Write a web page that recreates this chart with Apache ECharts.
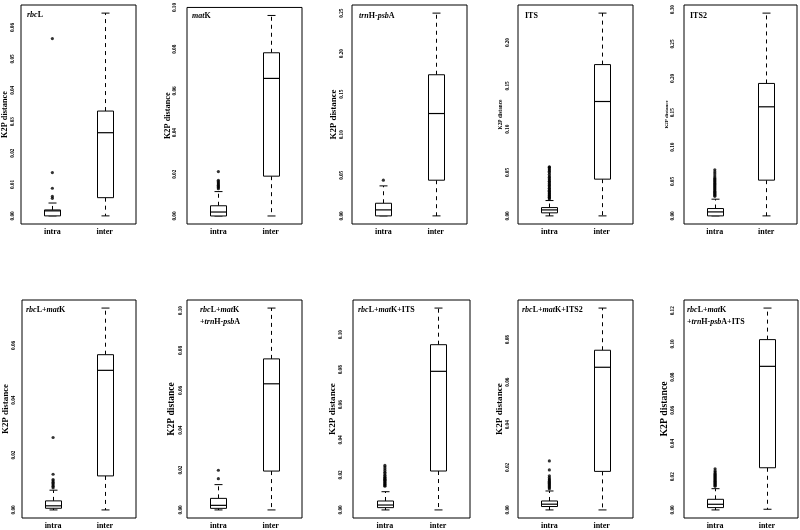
<!DOCTYPE html>
<html><head><meta charset="utf-8">
<script src="https://cdn.jsdelivr.net/npm/echarts@6/dist/echarts.min.js"></script>
<style>html,body{margin:0;padding:0;background:#fff}#c{width:800px;height:530px}</style>
</head><body><div id="c"></div><script>
// ---------------- DATA ----------------
const categories = ['intra', 'inter'];
// each box: [min, q1, median, q3, max]
const rbcL_intra = [0, 0, 0.0016, 0.0019, 0.0041];
const rbcL_inter = [0, 0.0058, 0.0265, 0.0334, 0.0646];
const rbcL_outliers = [0.0056, 0.0062, 0.0088, 0.0138, 0.0565];
const rbcL_ticks = [0, 0.01, 0.02, 0.03, 0.04, 0.05, 0.06];

const matK_intra = [0, 0, 0.0019, 0.0049, 0.0117];
const matK_inter = [0, 0.0191, 0.066, 0.0783, 0.0962];
const matK_outliers = [0.0131, 0.0137, 0.0142, 0.0148, 0.0153, 0.0159, 0.0165, 0.0171, 0.0213];
const matK_ticks = [0, 0.02, 0.04, 0.06, 0.08, 0.10];

const psbA_intra = [0, 0, 0.0074, 0.0156, 0.037];
const psbA_inter = [0, 0.044, 0.1262, 0.174, 0.25];
const psbA_outliers = [0.044];
const psbA_ticks = [0, 0.05, 0.10, 0.15, 0.20, 0.25];

const ITS_intra = [0, 0.0035, 0.0069, 0.0096, 0.0177];
const ITS_inter = [0, 0.0424, 0.132, 0.1746, 0.234];
const ITS_outliers = [0.0195, 0.0205, 0.0215, 0.0225, 0.0235, 0.0245, 0.0255, 0.0265, 0.0275, 0.0285, 0.0295, 0.031, 0.032, 0.0335, 0.035, 0.036, 0.0375, 0.039, 0.040, 0.0415, 0.043, 0.0445, 0.046, 0.048, 0.050, 0.0515, 0.053, 0.0545, 0.056, 0.0566];
const ITS_ticks = [0, 0.05, 0.10, 0.15, 0.20];

const ITS2_intra = [0, 0, 0.0058, 0.0107, 0.0243];
const ITS2_inter = [0, 0.052, 0.1587, 0.1927, 0.295];
const ITS2_outliers = [0.0285, 0.030, 0.0315, 0.033, 0.0345, 0.036, 0.0375, 0.039, 0.0405, 0.042, 0.0435, 0.045, 0.0465, 0.048, 0.0495, 0.051, 0.0525, 0.054, 0.0555, 0.058, 0.061, 0.064, 0.067];
const ITS2_ticks = [0, 0.05, 0.10, 0.15, 0.20, 0.25, 0.30];

const RM_intra = [0, 0.0006, 0.0015, 0.0033, 0.0072];
const RM_inter = [0, 0.0124, 0.0509, 0.0566, 0.0736];
const RM_outliers = [0.0081, 0.0086, 0.0091, 0.0096, 0.0101, 0.0106, 0.0111, 0.0130, 0.0264];
const RM_ticks = [0, 0.02, 0.04, 0.06];

const RMP_intra = [0, 0.0008, 0.0023, 0.0058, 0.0127];
const RMP_inter = [0, 0.0195, 0.0633, 0.0758, 0.1013];
const RMP_outliers = [0.0157, 0.0199];
const RMP_ticks = [0, 0.02, 0.04, 0.06, 0.08, 0.10];

const RMI_intra = [0, 0.0013, 0.0028, 0.0051, 0.0104];
const RMI_inter = [0, 0.0222, 0.0791, 0.0943, 0.1152];
const RMI_outliers = [0.0135, 0.014, 0.0145, 0.015, 0.0155, 0.016, 0.0165, 0.017, 0.0175, 0.018, 0.0185, 0.019, 0.0198, 0.0207, 0.0215, 0.0225, 0.0235, 0.0245, 0.0254];
const RMI_ticks = [0, 0.02, 0.04, 0.06, 0.08, 0.10];

const RMI2_intra = [0, 0.0016, 0.0027, 0.0042, 0.0089];
const RMI2_inter = [0, 0.0181, 0.067, 0.075, 0.0948];
const RMI2_outliers = [0.0100, 0.0105, 0.011, 0.0115, 0.012, 0.0125, 0.013, 0.0135, 0.014, 0.0145, 0.0152, 0.016, 0.0188, 0.023];
const RMI2_ticks = [0, 0.02, 0.04, 0.06, 0.08];

const RMPI_intra = [0, 0.0014, 0.0034, 0.0064, 0.0128];
const RMPI_inter = [0.0004, 0.0254, 0.0865, 0.1026, 0.1216];
const RMPI_outliers = [0.0142, 0.0148, 0.0154, 0.016, 0.0166, 0.0172, 0.0178, 0.0184, 0.019, 0.0196, 0.0202, 0.0208, 0.0214, 0.022, 0.0228, 0.0236, 0.0248];
const RMPI_ticks = [0, 0.02, 0.04, 0.06, 0.08, 0.10, 0.12];

const panelLabels = [
  '{i|rbc}{n|L}', '{i|mat}{n|K}', '{i|trn}{n|H-}{i|psb}{n|A}', '{n|ITS}', '{n|ITS2}',
  '{i|rbc}{n|L+}{i|mat}{n|K}', '{i|rbc}{n|L+}{i|mat}{n|K}\n{n|+}{i|trn}{n|H-}{i|psb}{n|A}',
  '{i|rbc}{n|L+}{i|mat}{n|K+ITS}', '{i|rbc}{n|L+}{i|mat}{n|K+ITS2}',
  '{i|rbc}{n|L+}{i|mat}{n|K}\n{n|+}{i|trn}{n|H-}{i|psb}{n|A+ITS}'
];
const yTitle = 'K2P distance';

const panelData = [
  [rbcL_intra, rbcL_inter, rbcL_outliers, rbcL_ticks],
  [matK_intra, matK_inter, matK_outliers, matK_ticks],
  [psbA_intra, psbA_inter, psbA_outliers, psbA_ticks],
  [ITS_intra, ITS_inter, ITS_outliers, ITS_ticks],
  [ITS2_intra, ITS2_inter, ITS2_outliers, ITS2_ticks],
  [RM_intra, RM_inter, RM_outliers, RM_ticks],
  [RMP_intra, RMP_inter, RMP_outliers, RMP_ticks],
  [RMI_intra, RMI_inter, RMI_outliers, RMI_ticks],
  [RMI2_intra, RMI2_inter, RMI2_outliers, RMI2_ticks],
  [RMPI_intra, RMPI_inter, RMPI_outliers, RMPI_ticks]
];

// ---------------- LAYOUT ----------------
const FONT = '"Liberation Serif", "Times New Roman", serif';
const layout = [
  {left: 20,  top: 5,   width: 116, lblMargin: 5.5, nameGap: 12,  nameFont: 8.3, tl: 27,  tt: 9},
  {left: 187, top: 5,   width: 115, lblMargin: 9.5, nameGap: 13,  nameFont: 8.3, tl: 192, tt: 10},
  {left: 352, top: 5,   width: 115, lblMargin: 7.5, nameGap: 12.5,nameFont: 8.9, tl: 359, tt: 10},
  {left: 518, top: 5,   width: 115, lblMargin: 7.5, nameGap: 15,  nameFont: 5.3, tl: 525, tt: 10},
  {left: 684, top: 5,   width: 113, lblMargin: 8.5, nameGap: 13,  nameFont: 5.0, tl: 690, tt: 10},
  {left: 20,  top: 300, width: 116, lblMargin: 5.5, nameGap: 12,  nameFont: 8.9, tl: 26,  tt: 304},
  {left: 187, top: 300, width: 115, lblMargin: 3.5, nameGap: 10,  nameFont: 9.5, tl: 200, tt: 304},
  {left: 353, top: 300, width: 117, lblMargin: 9.5, nameGap: 14,  nameFont: 9.2, tl: 358, tt: 304},
  {left: 518, top: 300, width: 115, lblMargin: 7.5, nameGap: 12,  nameFont: 9.2, tl: 522, tt: 304},
  {left: 684, top: 300, width: 114, lblMargin: 8.5, nameGap: 11,  nameFont: 9.8, tl: 687, tt: 304}
];
const GRID_H = 219;

function renderBox(params, api) {
  const x = api.value(0);
  const pMin = api.coord([x, api.value(1)]);
  const pQ1 = api.coord([x, api.value(2)]);
  const pMed = api.coord([x, api.value(3)]);
  const pQ3 = api.coord([x, api.value(4)]);
  const pMax = api.coord([x, api.value(5)]);
  const cx = Math.round(pMed[0]) + 0.5;
  const hw = 8, cw = 4;
  const solid = {stroke: '#000', lineWidth: 1, fill: null};
  const dash = {stroke: '#000', lineWidth: 1, lineDash: [4, 4], fill: null};
  return {type: 'group', children: [
    {type: 'line', shape: {x1: cx, y1: pQ3[1], x2: cx, y2: pMax[1]}, style: dash},
    {type: 'line', shape: {x1: cx, y1: pQ1[1], x2: cx, y2: pMin[1]}, style: dash},
    {type: 'line', shape: {x1: cx - cw, y1: pMax[1], x2: cx + cw, y2: pMax[1]}, style: solid},
    {type: 'line', shape: {x1: cx - cw, y1: pMin[1], x2: cx + cw, y2: pMin[1]}, style: solid},
    {type: 'rect', shape: {x: cx - hw, y: pQ3[1], width: 2 * hw, height: pQ1[1] - pQ3[1]}, style: {fill: '#fff', stroke: '#000', lineWidth: 1}},
    {type: 'line', shape: {x1: cx - hw, y1: pMed[1], x2: cx + hw, y2: pMed[1]}, style: {stroke: '#000', lineWidth: 1.2}}
  ]};
}

const grid = [], xAxis = [], yAxis = [], series = [], title = [];
panelData.forEach((pd, i) => {
  const [intra, inter, outs, ticks] = pd;
  const L = layout[i];
  const all = intra.concat(inter, outs);
  const hi = Math.max.apply(null, all), lo = Math.min.apply(null, all);
  const r = hi - lo;
  grid.push({left: L.left, top: L.top, width: L.width, height: GRID_H, show: true, borderColor: '#000', borderWidth: 1, backgroundColor: 'transparent', containLabel: false});
  xAxis.push({type: 'value', gridIndex: i, min: 0.4, max: 2.6,
    axisLine: {show: false}, axisTick: {show: false}, splitLine: {show: false},
    axisLabel: {customValues: [1, 2], formatter: v => categories[Math.round(v) - 1],
      fontFamily: FONT, fontWeight: 'bold', fontSize: 8, color: '#000', margin: 4}});
  yAxis.push({type: 'value', gridIndex: i, min: lo - 0.04 * r, max: hi + 0.04 * r,
    axisLine: {show: false}, axisTick: {show: false}, splitLine: {show: false},
    axisLabel: {customValues: ticks, rotate: 90, formatter: v => v.toFixed(2), fontFamily: FONT, fontWeight: 'bold', fontSize: 5.2, color: '#000', margin: L.lblMargin},
    name: yTitle, nameLocation: 'middle', nameRotate: 90, nameGap: L.nameGap,
    nameTextStyle: {fontFamily: FONT, fontWeight: 'bold', fontSize: L.nameFont, color: '#000'}});
  series.push({type: 'custom', xAxisIndex: i, yAxisIndex: i, renderItem: renderBox,
    encode: {x: 0, y: [1, 2, 3, 4, 5]},
    data: [[1].concat(intra), [2].concat(inter)], silent: true, z: 2});
  series.push({type: 'scatter', xAxisIndex: i, yAxisIndex: i, symbol: 'circle', symbolSize: 3.2,
    itemStyle: {color: '#000'}, data: outs.map(v => [1, v]), silent: true, z: 3});
  const st = {fontFamily: FONT, fontWeight: 'bold', fontSize: 8, color: '#000', lineHeight: 12};
  title.push({text: panelLabels[i], left: L.tl, top: L.tt, padding: 0,
    textStyle: {fontSize: 8, lineHeight: 12, rich: {
      i: Object.assign({}, st, {fontStyle: 'italic'}),
      n: Object.assign({}, st)
    }}});
});

const chart = echarts.init(document.getElementById('c'), null, {renderer: 'canvas'});
chart.setOption({animation: false, backgroundColor: '#fff', title, grid, xAxis, yAxis, series});
</script></body></html>
